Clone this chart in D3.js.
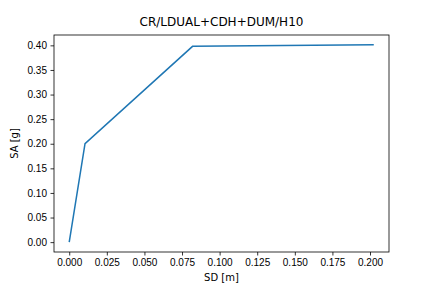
<!DOCTYPE html>
<html>
<head>
<meta charset="utf-8">
<script src="https://cdn.jsdelivr.net/npm/d3@7"></script>
<style>
  body { margin: 0; background: #fff; }
  svg { font-family: "DejaVu Sans", sans-serif; }
  .tick text { font-size: 10px; fill: #000; }
  .tick line, .domain { stroke: #000; stroke-width: 0.8; }
</style>
</head>
<body>
<div id="chart"></div>
<script>
var sd = [0.0, 0.0105, 0.082, 0.2025];
var sa = [0.0, 0.200, 0.398, 0.401];
var xTicks = [0, 0.025, 0.05, 0.075, 0.1, 0.125, 0.15, 0.175, 0.2];
var yTicks = [0, 0.05, 0.1, 0.15, 0.2, 0.25, 0.3, 0.35, 0.4];
var title = "CR/LDUAL+CDH+DUM/H10";

var width = 432, height = 288;
var margin = {top: 35, right: 43, bottom: 36, left: 54};

var svg = d3.select("#chart").append("svg")
    .attr("width", width)
    .attr("height", height);

// matplotlib style 5% margins
var xPad = (d3.max(sd) - d3.min(sd)) * 0.05,
    yPad = (d3.max(sa) - d3.min(sa)) * 0.05;

var x = d3.scaleLinear()
    .domain([d3.min(sd) - xPad, d3.max(sd) + xPad])
    .range([margin.left, width - margin.right]);
var y = d3.scaleLinear()
    .domain([d3.min(sa) - yPad, d3.max(sa) + yPad])
    .range([height - margin.bottom, margin.top]);

svg.append("g")
    .attr("transform", "translate(0," + (height - margin.bottom) + ")")
    .call(d3.axisBottom(x).tickValues(xTicks).tickFormat(d3.format(".3f")).tickSize(3.5).tickPadding(3.5))
    .call(function(g) { g.select(".domain").remove(); });

svg.append("g")
    .attr("transform", "translate(" + margin.left + ",0)")
    .call(d3.axisLeft(y).tickValues(yTicks).tickFormat(d3.format(".2f")).tickSize(3.5).tickPadding(3.5))
    .call(function(g) { g.select(".domain").remove(); });

svg.append("rect")
    .attr("x", margin.left)
    .attr("y", margin.top)
    .attr("width", width - margin.left - margin.right)
    .attr("height", height - margin.top - margin.bottom)
    .attr("fill", "none")
    .attr("stroke", "#000")
    .attr("stroke-width", 0.8);

var line = d3.line()
    .x(function(d, i) { return x(sd[i]); })
    .y(function(d, i) { return y(sa[i]); });

svg.append("path")
    .datum(sd)
    .attr("d", line)
    .attr("fill", "none")
    .attr("stroke", "#1f77b4")
    .attr("stroke-width", 1.5);

svg.append("text")
    .attr("x", (margin.left + width - margin.right) / 2)
    .attr("y", margin.top - 9)
    .attr("text-anchor", "middle")
    .attr("font-size", 12)
    .text(title);

svg.append("text")
    .attr("x", (margin.left + width - margin.right) / 2)
    .attr("y", height - 7)
    .attr("text-anchor", "middle")
    .attr("font-size", 10)
    .text("SD [m]");

svg.append("text")
    .attr("transform", "translate(18," + ((margin.top + height - margin.bottom) / 2) + ") rotate(-90)")
    .attr("text-anchor", "middle")
    .attr("font-size", 10)
    .text("SA [g]");
</script>
</body>
</html>
